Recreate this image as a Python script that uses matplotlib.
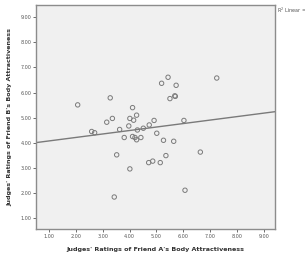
import numpy as np
import matplotlib
matplotlib.use("Agg")
import matplotlib.pyplot as plt

friend_a = [2.07, 2.59, 2.70, 3.28, 3.15, 3.36, 3.63, 3.80, 3.52, 3.43,
            3.97, 4.01, 4.11, 4.15, 4.26, 4.11, 4.20, 4.26, 4.29, 4.42,
            4.51, 4.01, 4.73, 4.91, 5.01, 4.71, 4.86, 5.14, 5.26, 5.35,
            5.19, 5.43, 5.50, 5.68, 5.70, 5.73, 5.64, 6.02, 6.06, 6.63, 7.24]
friend_b = [5.51, 4.45, 4.40, 5.79, 4.82, 4.97, 4.53, 4.21, 3.52, 1.84,
            4.67, 4.97, 5.40, 4.90, 5.10, 4.25, 4.21, 4.12, 4.51, 4.21,
            4.58, 2.96, 4.71, 4.89, 4.38, 3.21, 3.27, 3.21, 4.10, 3.49,
            6.37, 6.61, 5.76, 5.87, 5.85, 6.29, 4.06, 4.89, 2.11, 3.63, 6.58]
ticks = [1, 2, 3, 4, 5, 6, 7, 8, 9]
xlabel = "Judges' Ratings of Friend A's Body Attractiveness"
ylabel = "Judges' Ratings of Friend B's Body Attractiveness"
legend_text = "R$^2$ Linear ="

fig = plt.figure(figsize=(3.05, 2.61), dpi=100)
ax = fig.add_axes([0.118, 0.123, 0.784, 0.858])
ax.set_facecolor("#F0F0F0")
xlim = (0.52, 9.41)
ylim = (0.57, 9.49)
ax.set_xlim(*xlim)
ax.set_ylim(*ylim)

ax.scatter(friend_a, friend_b, s=10, facecolors="none", edgecolors="#7A7A7A", linewidths=0.7, zorder=3)

slope, intercept = np.polyfit(friend_a, friend_b, 1)
xs = np.array(xlim)
ax.plot(xs, intercept + slope * xs, color="#7A7A7A", linewidth=1.0, zorder=2)

ax.set_xticks(ticks)
ax.set_yticks(ticks)
ax.set_xticklabels([f"{t:.2f}" for t in ticks])
ax.set_yticklabels([f"{t:.2f}" for t in ticks])
ax.tick_params(labelsize=3.5, colors="#555555", length=2, width=0.6, pad=1.5)
for s in ax.spines.values():
    s.set_color("#8C8C8C")
    s.set_linewidth(1.0)

ax.set_xlabel(xlabel, fontsize=4.6, fontweight="bold", color="#333333", labelpad=6)
ax.set_ylabel(ylabel, fontsize=4.6, fontweight="bold", color="#333333", labelpad=6)

fig.text(0.908, 0.962, legend_text, fontsize=3.5, color="#555555", ha="left", va="center")

fig.savefig("out.png", dpi=100, facecolor="white")
